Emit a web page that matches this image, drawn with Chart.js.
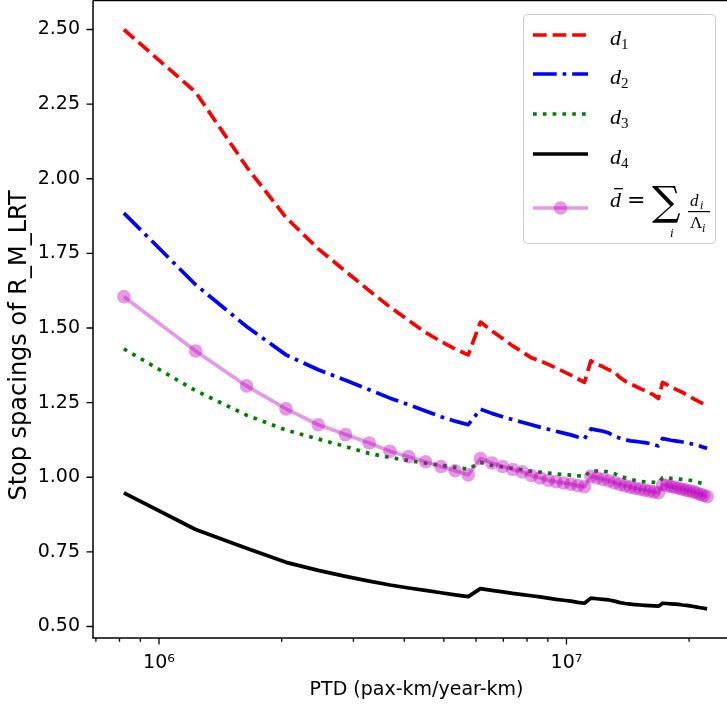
<!DOCTYPE html>
<html><head><meta charset="utf-8">
<style>
html,body{margin:0;padding:0;background:#fff;overflow:hidden;width:727px;height:708px}
#wrap{position:absolute;left:0;top:0;width:740px;height:708px}
</style>
<script src="https://cdn.jsdelivr.net/npm/chart.js@4"></script>
</head><body>
<div id="wrap"><canvas id="c" width="740" height="708"></canvas></div>
<script>
// PTD values (pax-km/year-km)
const ptd = [820000,1230000,1640000,2050000,2460000,2870000,3280000,3690000,4100000,4510000,
4920000,5330000,5740000,6150000,6560000,6970000,7380000,7790000,8200000,8610000,
9020000,9430000,9840000,10250000,10660000,11070000,11480000,11890000,12300000,12710000,
13120000,13530000,13940000,14350000,14760000,15170000,15580000,15990000,16400000,16810000,
17220000,17630000,18040000,18450000,18860000,19270000,19680000,20090000,20500000,20910000,
21320000,21730000,22140000];

const d1 = [2.50,2.29,2.04,1.87,1.765,1.69,1.625,1.57,1.525,1.485,
1.455,1.43,1.41,1.52,1.49,1.465,1.44,1.42,1.40,1.39,
1.378,1.366,1.354,1.342,1.33,1.318,1.39,1.378,1.37,1.36,
1.352,1.334,1.322,1.313,1.305,1.297,1.29,1.283,1.275,1.264,
1.318,1.31,1.302,1.296,1.29,1.284,1.277,1.27,1.263,1.257,
1.251,1.245,1.239];

const d2 = [1.885,1.645,1.505,1.41,1.36,1.325,1.293,1.265,1.243,1.222,
1.203,1.188,1.176,1.228,1.214,1.203,1.193,1.184,1.176,1.168,
1.161,1.154,1.148,1.142,1.135,1.129,1.162,1.158,1.154,1.148,
1.138,1.131,1.126,1.122,1.120,1.118,1.116,1.113,1.109,1.105,
1.13,1.127,1.124,1.122,1.12,1.118,1.116,1.113,1.11,1.107,
1.104,1.1,1.097];

const d3 = [1.43,1.29,1.208,1.158,1.128,1.103,1.08,1.066,1.056,1.047,
1.04,1.033,1.027,1.05,1.04,1.035,1.03,1.025,1.02,1.017,
1.014,1.011,1.009,1.007,1.005,1.002,1.022,1.021,1.02,1.018,
1.012,1.003,0.998,0.993,0.989,0.986,0.985,0.984,0.983,0.982,
0.998,0.997,0.996,0.995,0.994,0.993,0.992,0.99,0.987,0.984,
0.981,0.978,0.975];

const d4 = [0.948,0.825,0.762,0.715,0.688,0.668,0.652,0.639,0.629,0.621,
0.613,0.606,0.600,0.627,0.621,0.616,0.611,0.607,0.603,0.599,
0.595,0.591,0.588,0.585,0.581,0.578,0.595,0.593,0.591,0.589,
0.585,0.58,0.577,0.575,0.573,0.572,0.571,0.57,0.569,0.568,
0.578,0.577,0.576,0.575,0.574,0.572,0.571,0.569,0.567,0.565,
0.563,0.561,0.559];

const dbar = [1.605,1.423,1.306,1.229,1.176,1.143,1.115,1.087,1.069,1.052,
1.036,1.022,1.008,1.063,1.048,1.036,1.026,1.018,1.006,0.998,
0.99,0.985,0.981,0.977,0.972,0.968,1.003,0.998,0.993,0.988,
0.982,0.976,0.971,0.967,0.963,0.96,0.957,0.954,0.951,0.948,
0.975,0.972,0.969,0.966,0.963,0.96,0.957,0.954,0.951,0.947,
0.943,0.939,0.935];

const seriesLabels = ['d₁','d₂','d₃','d₄','d̄ = Σᵢ dᵢ/Λᵢ'];
const yTicks = [0.5,0.75,1.0,1.25,1.5,1.75,2.0,2.25,2.5];
const xMajorTicks = [1000000, 10000000];
const xMajorLabels = ['10⁶','10⁷'];
const xMinorTicks = [700000,800000,900000,2000000,3000000,4000000,5000000,6000000,7000000,8000000,9000000,20000000];
const xTitle = 'PTD (pax-km/year-km)';
const yTitle = 'Stop spacings of R_M_LRT';

const pts = arr => ptd.map((x,i)=>({x:x, y:arr[i]}));
const LW = 3.7;
const FONT = 'DejaVu Sans';

const datasets = [
  {label:seriesLabels[0], data:pts(d1), borderColor:'#ff0000', borderDash:[13.7,5.9], borderWidth:LW, pointRadius:0, order:5},
  {label:seriesLabels[1], data:pts(d2), borderColor:'#0000ff', borderDash:[23.7,5.9,3.7,5.9], borderWidth:LW, pointRadius:0, order:4},
  {label:seriesLabels[2], data:pts(d3), borderColor:'#008000', borderDash:[3.7,6.1], borderWidth:LW, pointRadius:0, order:3},
  {label:seriesLabels[3], data:pts(d4), borderColor:'#000000', borderWidth:LW, pointRadius:0, order:2},
  {label:seriesLabels[4], data:pts(dbar), borderColor:'rgba(191,0,191,0.4)', borderWidth:LW,
   pointRadius:6.8, pointBackgroundColor:'rgba(191,0,191,0.4)', pointBorderWidth:0, pointHoverRadius:6.8, order:1}
];
datasets.forEach(d=>{ d.fill=false; d.tension=0; d.clip=false; d.borderCapStyle='butt'; d.borderJoinStyle='round'; });

const zeroPad = s => { s.paddingTop = 0; s.paddingBottom = 0; s.paddingLeft = 0; s.paddingRight = 0; };

// the y-axis title sits lower than the axis centre in the reference
const titleShiftPlugin = {
  id:'yTitleShift',
  afterLayout(chart){ const y = chart.scales.y; y.top += 26; y.bottom += 26; }
};

const axesPlugin = {
  id:'mplAxes',
  afterDatasetsDraw(chart){
    const {ctx, chartArea:a, scales:{x, y}} = chart;
    ctx.save();
    ctx.strokeStyle = '#000'; ctx.lineWidth = 1.5; ctx.setLineDash([]);
    ctx.beginPath();
    ctx.moveTo(a.left, a.top - 0.5); ctx.lineTo(a.left, a.bottom);
    ctx.lineTo(a.right + 2, a.bottom);
    ctx.moveTo(a.left, a.top - 0.5); ctx.lineTo(a.right + 2, a.top - 0.5);
    ctx.stroke();
    ctx.lineWidth = 1.3;
    ctx.beginPath();
    xMajorTicks.forEach(v=>{ const p = x.getPixelForValue(v); ctx.moveTo(p, a.bottom); ctx.lineTo(p, a.bottom + 6.5); });
    xMinorTicks.forEach(v=>{ const p = x.getPixelForValue(v); ctx.moveTo(p, a.bottom); ctx.lineTo(p, a.bottom + 3.7); });
    yTicks.forEach(v=>{ const p = y.getPixelForValue(v); ctx.moveTo(a.left - 6.5, p); ctx.lineTo(a.left, p); });
    ctx.stroke();
    ctx.restore();
  }
};

const legendPlugin = {
  id:'mplLegend',
  afterDraw(chart){
    const ctx = chart.ctx;
    ctx.save();
    const bx = 523, by = 14, bw = 192, bh = 229;
    ctx.beginPath(); ctx.roundRect(bx + 0.5, by + 0.5, bw, bh, 4);
    ctx.fillStyle = 'rgba(255,255,255,0.8)'; ctx.fill();
    ctx.strokeStyle = '#cccccc'; ctx.lineWidth = 1; ctx.stroke();
    const rowY = [35, 74, 114, 154, 208];
    chart.data.datasets.forEach((ds, i)=>{
      ctx.save();
      ctx.setLineDash(ds.borderDash || []);
      ctx.strokeStyle = ds.borderColor; ctx.lineWidth = ds.borderWidth; ctx.lineCap = 'butt';
      ctx.beginPath(); ctx.moveTo(533, rowY[i]); ctx.lineTo(588, rowY[i]); ctx.stroke();
      if (ds.pointRadius) {
        ctx.beginPath(); ctx.arc(560.5, rowY[i], ds.pointRadius, 0, 2*Math.PI);
        ctx.fillStyle = ds.pointBackgroundColor; ctx.fill();
      }
      ctx.restore();
    });
    ctx.fillStyle = '#000'; ctx.textAlign = 'left'; ctx.textBaseline = 'alphabetic';
    const it = 'italic 22px "Liberation Serif"';
    for (let i = 0; i < 4; i++) {
      ctx.font = it; ctx.fillText('d', 610, rowY[i] + 10);
      ctx.font = '15px "Liberation Serif"'; ctx.fillText(String(i + 1), 621, rowY[i] + 14);
    }
    // d-bar = sum_i d_i / Lambda_i
    ctx.font = it; ctx.fillText('d', 610, 207);
    ctx.fillRect(614, 188, 9, 1.3);
    ctx.font = '22px "DejaVu Serif"'; ctx.fillText('=', 627, 207);
    ctx.font = '40px "DejaVu Serif"'; ctx.fillText('∑', 652, 215);
    ctx.font = 'italic 13px "Liberation Serif"'; ctx.fillText('i', 670, 237);
    ctx.font = 'italic 17px "Liberation Serif"'; ctx.fillText('d', 690, 206);
    ctx.font = 'italic 12px "Liberation Serif"'; ctx.fillText('i', 700, 209);
    ctx.fillRect(688, 211, 22, 1.2);
    ctx.font = '17px "Liberation Serif"'; ctx.fillText('Λ', 690, 228);
    ctx.font = 'italic 12px "Liberation Serif"'; ctx.fillText('i', 702, 232);
    ctx.restore();
  }
};

new Chart(document.getElementById('c'), {
  type:'line',
  data:{datasets},
  options:{
    responsive:false, animation:false, devicePixelRatio:1,
    layout:{padding:{top:1, left:0, right:0, bottom:0}, autoPadding:false},
    plugins:{legend:{display:false}, tooltip:{enabled:false}},
    events:[],
    scales:{
      x:{type:'logarithmic', min:688700, max:26660000, bounds:'data',
        afterBuildTicks:s=>{ s.ticks = xMinorTicks.concat(xMajorTicks).sort((a,b)=>a-b).map(v=>({value:v, major:xMajorTicks.includes(v)})); },
        ticks:{autoSkip:false, maxRotation:0, minRotation:0, color:'#000', padding:7,
          font:{family:FONT, size:19},
          callback:(v)=>{ const k = xMajorTicks.indexOf(v); return k >= 0 ? xMajorLabels[k] : ''; }},
        grid:{display:true, drawOnChartArea:false, drawTicks:true, tickLength:6.5, color:'rgba(0,0,0,0)'},
        border:{display:false},
        title:{display:true, text:xTitle, color:'#000', font:{family:FONT, size:19}, padding:{top:0, bottom:7}},
        afterFit:s=>{ s.height = 70; zeroPad(s); }
      },
      y:{type:'linear', min:0.4615, max:2.5955,
        afterBuildTicks:s=>{ s.ticks = yTicks.map(v=>({value:v})); },
        ticks:{color:'#000', padding:6.5, font:{family:FONT, size:19}, callback:(v)=>Number(v).toFixed(2)},
        grid:{display:true, drawOnChartArea:false, drawTicks:true, tickLength:6.5, color:'rgba(0,0,0,0)'},
        border:{display:false},
        title:{display:true, text:yTitle, color:'#000', font:{family:FONT, size:24}, padding:{top:5, bottom:0}},
        afterFit:s=>{ s.width = 93; zeroPad(s); }
      }
    }
  },
  plugins:[titleShiftPlugin, axesPlugin, legendPlugin]
});
</script>
</body></html>
